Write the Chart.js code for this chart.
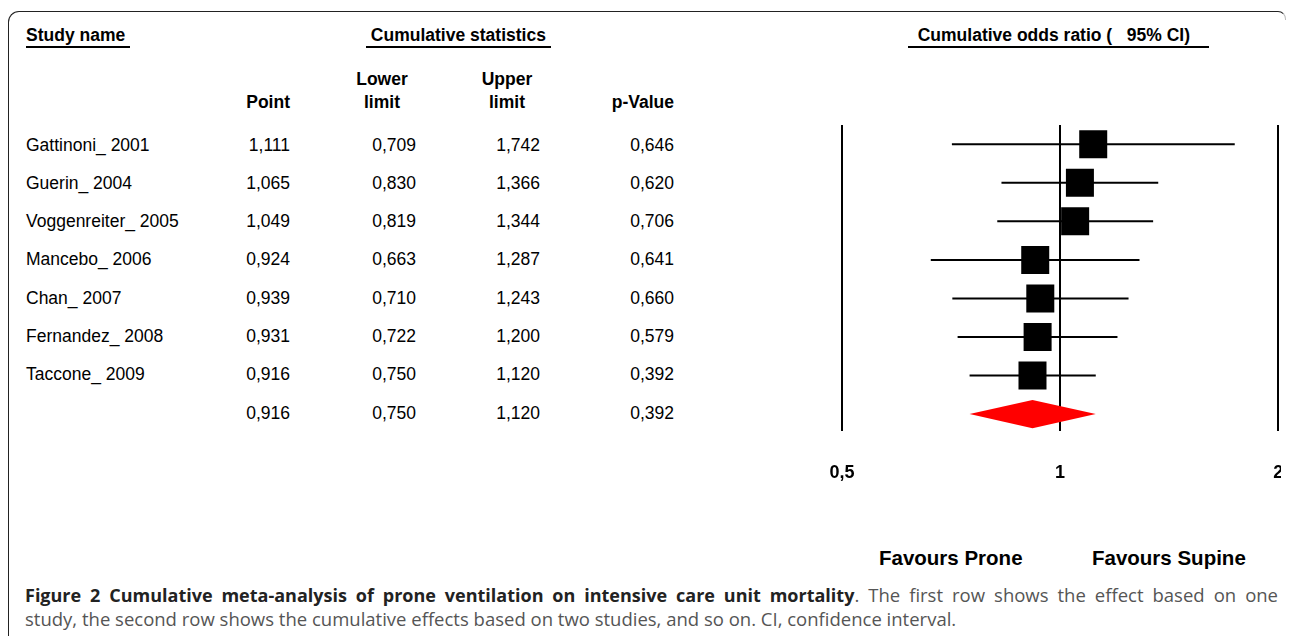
<!DOCTYPE html>
<html>
<head>
<meta charset="utf-8">
<script src="https://cdn.jsdelivr.net/npm/chart.js@4"></script>
<style>
  html, body { margin:0; padding:0; background:#fff; }
  body { width:1292px; height:636px; position:relative; overflow:hidden; font-family:"Liberation Sans", Arial, sans-serif; color:#000; }
  .t { position:absolute; font-size:17.5px; line-height:20px; white-space:pre; }
  .b { font-weight:bold; }
  .r { text-align:right; }
  .c { text-align:center; }
  .ul { border-bottom:2px solid #000; padding-bottom:1px; }
  #frame { position:absolute; left:8px; top:11px; width:1276px; height:700px; border-top:1px solid #222; border-left:1px solid #222; border-right:1px solid #bbb; border-top-left-radius:11px; border-top-right-radius:8px; }
  #frameMask { position:absolute; left:1270px; top:20px; width:30px; height:700px; background:#fff; }
  #chartBox { position:absolute; left:800px; top:100px; width:481px; height:400px; overflow:hidden; }
  .cap { position:absolute; left:25px; width:1253px; font-family:"Open Sans", sans-serif; font-size:18.5px; line-height:24px; color:#555; white-space:nowrap; }
  #cap1 { top:583px; text-align:justify; text-align-last:justify; white-space:normal; }
  #cap2 { top:607px; }
  .cap b { color:#222; font-weight:bold; font-size:18px; }
</style>
</head>
<body>
<div id="frame"></div>
<div id="frameMask"></div>
<div id="table"></div>
<div id="chartBox"><canvas id="c" width="498" height="400"></canvas></div>
<div class="t b" style="left:879px; top:546px; font-size:20.5px; line-height:24px;">Favours Prone</div>
<div class="t b" style="left:1092px; top:546px; font-size:20.5px; line-height:24px;">Favours Supine</div>
<div class="cap" id="cap1"><b>Figure 2 Cumulative meta-analysis of prone ventilation on intensive care unit mortality</b>. The first row shows the effect based on one</div>
<div class="cap" id="cap2">study, the second row shows the cumulative effects based on two studies, and so on. CI, confidence interval.</div>
<script>
// ---- data ----
const studies   = ['Gattinoni_ 2001','Guerin_ 2004','Voggenreiter_ 2005','Mancebo_ 2006','Chan_ 2007','Fernandez_ 2008','Taccone_ 2009'];
const pointEst  = [1.111, 1.065, 1.049, 0.924, 0.939, 0.931, 0.916];
const lowerLim  = [0.709, 0.830, 0.819, 0.663, 0.710, 0.722, 0.750];
const upperLim  = [1.742, 1.366, 1.344, 1.287, 1.243, 1.200, 1.120];
const pValues   = [0.646, 0.620, 0.706, 0.641, 0.660, 0.579, 0.392];
const summaryPoint = 0.916, summaryLower = 0.750, summaryUpper = 1.120, summaryP = 0.392;
const xTicks      = [0.5, 1, 2];
const xTickLabels = ['0,5', '1', '2'];

const fmt = v => v.toFixed(3).replace('.', ',');

// ---- table text ----
const tbl = document.getElementById('table');
function addText(txt, left, top, cls, extra) {
  const d = document.createElement('div');
  d.className = 't ' + (cls || '');
  d.textContent = txt;
  d.style.left = left + 'px';
  d.style.top = top + 'px';
  if (extra) Object.assign(d.style, extra);
  tbl.appendChild(d);
  return d;
}
addText('Study name ', 26, 25, 'b ul');
addText(' Cumulative statistics ', 366, 25, 'b ul');
addText('  Cumulative odds ratio (   95% CI)    ', 908, 25, 'b ul');
addText('Point', 190, 92, 'b r', {width:'100px'});
addText('Lower', 332, 69, 'b c', {width:'100px'});
addText('limit', 332, 92, 'b c', {width:'100px'});
addText('Upper', 457, 69, 'b c', {width:'100px'});
addText('limit', 457, 92, 'b c', {width:'100px'});
addText('p-Value', 574, 92, 'b r', {width:'100px'});
const rowY0 = 144, rowDY = 38.29;
const colRight = [290, 416, 540, 674];
function addRow(i, name, vals) {
  const top = rowY0 + i * rowDY - 9.5;
  if (name) addText(name, 26, top, '');
  vals.forEach((v, k) => addText(fmt(v), colRight[k] - 100, top, 'r', {width:'100px'}));
}
studies.forEach((s, i) => addRow(i, s, [pointEst[i], lowerLim[i], upperLim[i], pValues[i]]));
addRow(studies.length, '', [summaryPoint, summaryLower, summaryUpper, summaryP]);

// ---- forest plot ----
const datasets = [];
datasets.push({
  type: 'scatter',
  data: pointEst.map((v, i) => ({x: v, y: i})),
  pointStyle: 'rect',
  pointRadius: 19.8,
  pointHoverRadius: 19.8,
  backgroundColor: '#000',
  borderWidth: 0,
  order: 0
});
studies.forEach((s, i) => {
  datasets.push({
    type: 'line',
    data: [{x: lowerLim[i], y: i}, {x: upperLim[i], y: i}],
    borderColor: '#000',
    borderWidth: 2,
    pointRadius: 0,
    fill: false,
    order: 1
  });
});
const sy = studies.length, half = 0.366;
datasets.push({
  type: 'line',
  data: [
    {x: summaryLower, y: sy},
    {x: summaryPoint, y: sy - half},
    {x: summaryUpper, y: sy},
    {x: summaryPoint, y: sy + half},
    {x: summaryLower, y: sy}
  ],
  borderColor: '#ff0000',
  borderWidth: 0,
  backgroundColor: '#ff0000',
  pointRadius: 0,
  tension: 0,
  fill: 'shape',
  order: 0
});

new Chart(document.getElementById('c'), {
  type: 'scatter',
  data: { datasets },
  options: {
    responsive: false,
    animation: false,
    events: [],
    layout: { padding: { left: 42, right: 5, top: 25, bottom: 16 } },
    plugins: { legend: { display: false }, tooltip: { enabled: false } },
    scales: {
      x: {
        type: 'logarithmic',
        min: 0.5, max: 2,
        afterBuildTicks: sc => { sc.ticks = xTicks.map(v => ({value: v})); },
        ticks: {
          callback: (v, i) => xTickLabels[i],
          font: { family: '"Liberation Sans", Arial, sans-serif', size: 18, weight: 'bold' },
          color: '#000',
          padding: 0,
          maxRotation: 0,
          autoSkip: false
        },
        grid: { color: '#000', lineWidth: 2, drawTicks: true, tickLength: 31, tickColor: 'rgba(0,0,0,0)' },
        border: { display: false }
      },
      y: {
        type: 'linear',
        reverse: true,
        min: -0.5, max: 7.45,
        display: false
      }
    }
  }
});
</script>
</body>
</html>
